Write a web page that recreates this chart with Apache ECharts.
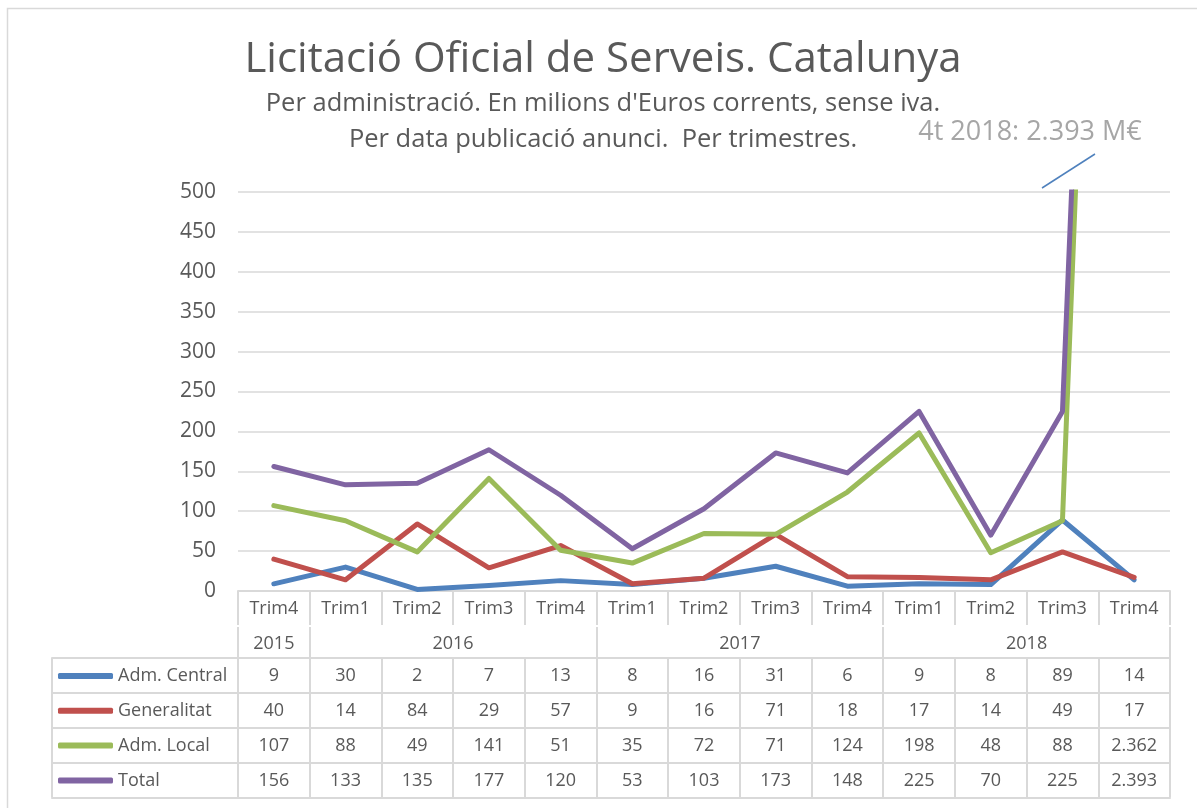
<!DOCTYPE html>
<html>
<head>
<meta charset="utf-8">
<script src="https://cdn.jsdelivr.net/npm/echarts@6/dist/echarts.min.js"></script>
<style>html,body{margin:0;padding:0;background:#fff;}#c{width:1197px;height:808px;}</style>
</head>
<body>
<div id="c"></div>
<script>
// ---- data ----
const quarters = ['Trim4','Trim1','Trim2','Trim3','Trim4','Trim1','Trim2','Trim3','Trim4','Trim1','Trim2','Trim3','Trim4'];
const quarterYears = ['2015','2016','2016','2016','2016','2017','2017','2017','2017','2018','2018','2018','2018'];
const admCentral = [9,30,2,7,13,8,16,31,6,9,8,89,14];
const generalitat = [40,14,84,29,57,9,16,71,18,17,14,49,17];
const admLocal = [107,88,49,141,51,35,72,71,124,198,48,88,2362];
const total = [156,133,135,177,120,53,103,173,148,225,70,225,2393];
const seriesNames = ['Adm. Central','Generalitat','Adm. Local','Total'];
const yTicks = [0,50,100,150,200,250,300,350,400,450,500];

// ---- styles ----
const FONT = 'Open Sans';
const TXT = '#595959';
const GRIDC = '#d9d9d9';
const colors = ['#4f81bd','#c0504d','#9bbb59','#8064a2'];

const PLOT_L = 238, PLOT_R = 1170, PLOT_T = 192, PLOT_B = 591;
const TABLE_L = 52;
const W = 1197, H = 808;
const N = quarters.length;
const colW = (PLOT_R - PLOT_L) / N;
const legendCols = (PLOT_L - TABLE_L) / colW;

function fmt(v){ return String(v).replace(/\B(?=(\d{3})+(?!\d))/g, '.'); }

// year spans from quarterYears
const yearSpans = [];
quarterYears.forEach((y,i)=>{
  const last = yearSpans[yearSpans.length-1];
  if (last && last.year === y) last.end = i+1; else yearSpans.push({year:y,start:i,end:i+1});
});
const yearTicks = yearSpans.map(s=>s.start).concat([N]);
const yearLabelPos = yearSpans.map(s=>(s.start+s.end)/2);

const rowData = [admCentral, generalitat, admLocal, total];
const colCenters = quarters.map((q,i)=>i+0.5);
const colBounds = [-legendCols].concat(quarters.map((q,i)=>i)).concat([N]);
const ROW_H = 35;
const rowOffsets = [0, 35, 70, 104.5];

const lineStyle = {color: GRIDC, width: 2};
const labelBase = {color: TXT, fontSize: 18, fontFamily: FONT, lineHeight: 20};

const xAxes = [
  { type:'category', gridIndex:0, data: quarters, boundaryGap:true, position:'bottom',
    axisLine:{show:true, lineStyle}, axisTick:{show:true, interval:0, length:34, lineStyle},
    axisLabel:Object.assign({interval:0, margin:8}, labelBase), splitLine:{show:false} },
  { type:'value', gridIndex:0, min:0, max:N, position:'bottom', offset:36,
    axisLine:{show:false}, splitLine:{show:false},
    axisTick:{show:true, length:32, lineStyle, customValues: yearTicks},
    axisLabel:Object.assign({margin:7, customValues: yearLabelPos,
      formatter: v => { const s = yearSpans.find(s=>v>s.start && v<s.end); return s ? s.year : ''; }}, labelBase) }
];
rowData.forEach((arr, r)=>{
  xAxes.push({ type:'value', gridIndex:1, min:-legendCols, max:N, position:'bottom', offset: rowOffsets[r],
    axisLine:{show:true, lineStyle}, splitLine:{show:false},
    axisTick:{show:true, length:ROW_H, lineStyle, customValues: colBounds},
    axisLabel:Object.assign({margin:8, customValues: colCenters,
      formatter: v => fmt(arr[Math.floor(v)])}, labelBase) });
});
xAxes.push({ type:'value', gridIndex:1, min:-legendCols, max:N, position:'bottom', offset: 140,
  axisLine:{show:true, lineStyle}, splitLine:{show:false}, axisTick:{show:false}, axisLabel:{show:false} });

const option = {
  animation:false,
  backgroundColor:'#fff',
  color: colors,
  textStyle:{fontFamily: FONT},
  grid:[
    {left:PLOT_L, right:W-PLOT_R, top:PLOT_T, bottom:H-PLOT_B},
    {left:TABLE_L, right:W-PLOT_R, top:657, height:1}
  ],
  legend:{ orient:'vertical', left:58, top:666, padding:0, itemWidth:55, itemHeight:6, itemGap:14.8,
    icon:'roundRect', selectedMode:false, data: seriesNames,
    textStyle:{color:TXT, fontSize:18, fontFamily:FONT, lineHeight:20} },
  xAxis: xAxes,
  yAxis:[
    { type:'value', gridIndex:0, min:yTicks[0], max:yTicks[yTicks.length-1], interval:yTicks[1]-yTicks[0],
      axisLine:{show:false}, axisTick:{show:false},
      axisLabel:{color:TXT, fontSize:21, fontFamily:FONT, margin:22},
      splitLine:{show:true, lineStyle:{color:GRIDC, width:1.5}} },
    { type:'value', gridIndex:1, show:false }
  ],
  series: rowData.map((arr,i)=>({
    name: seriesNames[i], type:'line', xAxisIndex:0, yAxisIndex:0, data: arr,
    symbol:'none', clip:true,
    lineStyle:{width:5, color:colors[i], join:'round', cap:'round'},
    itemStyle:{color:colors[i]}
  })),
  graphic:[
    {type:'rect', shape:{x:7.5, y:8.5, width:1300, height:1000}, style:{fill:'none', stroke:GRIDC, lineWidth:1.5}, silent:true},
    {type:'text', x:603, y:60, style:{text:'Licitació Oficial de Serveis. Catalunya', fill:TXT, font:'42px "Open Sans"', textAlign:'center', textVerticalAlign:'middle'}},
    {type:'text', x:603, y:104, style:{text:"Per administració. En milions d'Euros corrents, sense iva.", fill:TXT, font:'25.5px "Open Sans"', textAlign:'center', textVerticalAlign:'middle'}},
    {type:'text', x:603, y:140, style:{text:'Per data publicació anunci.  Per trimestres.', fill:TXT, font:'25.5px "Open Sans"', textAlign:'center', textVerticalAlign:'middle'}},
    {type:'text', x:1030, y:132, style:{text:'4t 2018: 2.393 M€', fill:'#a6a6a6', font:'27px "Open Sans"', textAlign:'center', textVerticalAlign:'middle'}},
    {type:'line', shape:{x1:1042, y1:188, x2:1095, y2:154}, style:{stroke:'#4f81bd', lineWidth:1.5}}
  ]
};
const chart = echarts.init(document.getElementById('c'), null, {renderer:'canvas'});
chart.setOption(option);
</script>
</body>
</html>
